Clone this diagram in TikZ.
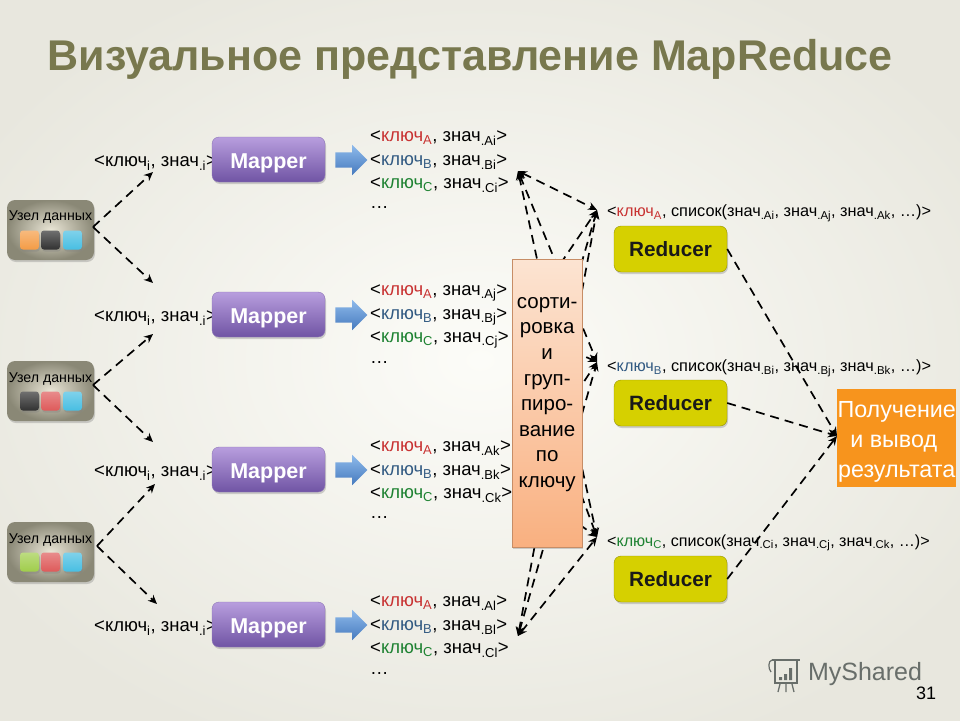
\documentclass[tikz,border=0pt]{standalone}
\usepackage{fontspec}
\setmainfont{Liberation Sans}
\usepackage{tikz}
\usetikzlibrary{arrows.meta,positioning,shapes.arrows,shadows,calc}
\usepackage{xcolor}
\definecolor{keyred}{RGB}{200,50,50}
\definecolor{keyblue}{RGB}{50,90,130}
\definecolor{keygreen}{RGB}{30,130,50}
\definecolor{titleolive}{RGB}{120,120,78}
\definecolor{mtop}{RGB}{184,158,222}
\definecolor{mbot}{RGB}{112,84,164}
\definecolor{rfill}{RGB}{214,208,0}
\definecolor{cellorange}{RGB}{244,156,70}
\definecolor{cellblack}{RGB}{50,50,50}
\definecolor{cellcyan}{RGB}{72,190,226}
\definecolor{cellred}{RGB}{222,90,90}
\definecolor{cellgreen}{RGB}{160,205,75}
\definecolor{bgin}{RGB}{252,252,248}
\definecolor{bgout}{RGB}{232,231,222}
\definecolor{datain}{RGB}{234,230,214}
\definecolor{dataout}{RGB}{138,136,118}
\definecolor{sorttop}{RGB}{252,228,210}
\definecolor{sortbot}{RGB}{249,176,128}
\definecolor{resultfill}{RGB}{247,148,29}
\definecolor{arrowtop}{RGB}{142,186,235}
\definecolor{arrowbot}{RGB}{70,122,190}
\definecolor{logogray}{RGB}{104,110,106}
\newcommand{\kvpair}[3]{<\textcolor{#1}{ключ\textsubscript{#2}}, знач\textsubscript{.#3}>}
\newcommand{\kvlist}[5]{<\textcolor{#1}{ключ\textsubscript{#2}}, список(знач\textsubscript{.#3}, знач\textsubscript{.#4}, знач\textsubscript{.#5}, \dots)>}
\tikzset{
  softshadow/.style={drop shadow={opacity=0.35,shadow xshift=1pt,shadow yshift=-2pt}},
  flow/.style={-{Stealth[length=9pt,width=8pt]},dash pattern=on 9pt off 6pt,line width=1.7pt,black},
  flowboth/.style={flow,{Stealth[length=9pt,width=8pt]}-{Stealth[length=9pt,width=8pt]}},
  datanode/.style={rounded corners=8pt,minimum width=87pt,minimum height=60pt,inner color=datain,outer color=dataout,softshadow},
  cell/.style={rounded corners=3pt,minimum size=19pt,inner sep=0pt,top color=#1!70!white,bottom color=#1,softshadow},
  mapperbox/.style={rounded corners=7pt,minimum width=113pt,minimum height=45pt,text height=17pt,text depth=0pt,top color=mtop,bottom color=mbot,draw=mbot!80,font=\fontsize{21.5}{24}\selectfont\bfseries,text=white,softshadow},
  reducerbox/.style={rounded corners=7pt,minimum width=113pt,minimum height=46pt,text height=15pt,text depth=0pt,fill=rfill,draw=rfill!70!black,font=\fontsize{20.7}{24}\selectfont\bfseries,text=black!90,softshadow},
  blockarrow/.style={single arrow,minimum height=32pt,inner xsep=0pt,inner ysep=7.5pt,single arrow head extend=7.5pt,single arrow tip angle=90,top color=arrowtop,bottom color=arrowbot},
  kvtext/.style={anchor=west,inner sep=0pt,font=\fontsize{18.5}{20}\selectfont},
  lsttext/.style={anchor=west,inner sep=0pt,font=\fontsize{16.3}{18}\selectfont},
  datalabel/.style={font=\fontsize{14.2}{16}\selectfont},
}
\begin{document}
\begin{tikzpicture}[x=1pt,y=-1pt]
    \useasboundingbox (0,0) rectangle (960,720);
    % Background
    \fill[inner color=bgin,outer color=bgout] (-100,-60) rectangle (1060,780);

    % Title
    \node[font=\fontsize{43}{46}\selectfont\bfseries,text=titleolive] (title) at (470,59) {Визуальное представление MapReduce};

    % Connectors, all under the sort box
    \coordinate (outa) at (518,171);
    \coordinate (outb) at (518,326);
    \coordinate (outc) at (518,481);
    \coordinate (outd) at (518,636);
    \coordinate (ina) at (597,210);
    \coordinate (inb) at (597,362);
    \coordinate (inc) at (597,537);
    \foreach \from/\kind in {outa/flowboth,outb/flow,outc/flow,outd/flowboth}
      \foreach \to in {ina,inb,inc}
        \draw[\kind] (\from) -- (\to);

    % Data nodes
    \node[datanode] (dataa) at (50.5,230) {};
    \node[datanode] (datab) at (50.5,391) {};
    \node[datanode] (datac) at (50.5,552) {};
    \node[datalabel] (labela) at (50.5,217) {Узел данных};
    \node[datalabel] (labelb) at (50.5,379) {Узел данных};
    \node[datalabel] (labelc) at (50.5,540) {Узел данных};
    \node[cell=cellorange] (a1) at (29.5,240) {};
    \node[cell=cellblack] (a2) at (50.5,240) {};
    \node[cell=cellcyan] (a3) at (72.5,240) {};
    \node[cell=cellblack] (b1) at (29.5,401) {};
    \node[cell=cellred] (b2) at (50.5,401) {};
    \node[cell=cellcyan] (b3) at (72.5,401) {};
    \node[cell=cellgreen] (c1) at (29.5,562) {};
    \node[cell=cellred] (c2) at (50.5,562) {};
    \node[cell=cellcyan] (c3) at (72.5,562) {};

    % Input ends
    \coordinate (ia) at (153,172);
    \coordinate (ib) at (153,283);
    \coordinate (ic) at (153,334);
    \coordinate (id) at (153,442);
    \coordinate (ie) at (155,484);
    \coordinate (if) at (157,604);
    \coordinate (da) at (93,227);
    \coordinate (db) at (93,385);
    \coordinate (dc) at (97,546);
    \draw[flow] (da) -- (ia);
    \draw[flow] (da) -- (ib);
    \draw[flow] (db) -- (ic);
    \draw[flow] (db) -- (id);
    \draw[flow] (dc) -- (ie);
    \draw[flow] (dc) -- (if);

    % Mappers
    \foreach \name/\y/\k in {a/0/i,b/155/j,c/310/k,d/465/l} {
      \node[kvtext] (in\name) at (94,163+\y) {\kvpair{black}{i}{i}};
      \node[mapperbox] (map\name) at (268.5,159.5+\y) {Mapper};
      \node[blockarrow] (arr\name) at (347.5,160+\y) {};
      \node[kvtext] (ka\name) at (370,138+\y) {\kvpair{keyred}{A}{A\k}};
      \node[kvtext] (kb\name) at (370,162+\y) {\kvpair{keyblue}{B}{B\k}};
      \node[kvtext] (kc\name) at (370,185+\y) {\kvpair{keygreen}{C}{C\k}};
      \node[kvtext] (dots\name) at (370,208+\y) {\dots};
    }

    % Sort box
    \node[anchor=north west,minimum width=70pt,minimum height=288pt,inner sep=0pt,top color=sorttop,bottom color=sortbot,draw=sortbot!80!black,softshadow] (sortbox) at (512,259) {};
    \node[font=\fontsize{20.5}{25.6}\selectfont,align=center,anchor=north,inner sep=0pt] (sorttext) at (sortbox.north |- 0,297) {сорти-\\ровка\\и\\груп-\\пиро-\\вание\\по\\ключу};

    % Reducers
    \node[lsttext] (lista) at (607,213) {\kvlist{keyred}{A}{Ai}{Aj}{Ak}};
    \node[lsttext] (listb) at (607,368) {\kvlist{keyblue}{B}{Bi}{Bj}{Bk}};
    \node[lsttext,font=\fontsize{16.1}{18}\selectfont] (listc) at (607,543) {\kvlist{keygreen}{C}{Ci}{Cj}{Ck}};
    \node[reducerbox] (reda) at (670.5,249) {Reducer};
    \node[reducerbox] (redb) at (670.5,403) {Reducer};
    \node[reducerbox] (redc) at (670.5,579) {Reducer};

    % Result
    \node[anchor=north west,minimum width=119pt,minimum height=98pt,inner sep=0pt,fill=resultfill] (result) at (837,389) {};
    \node[font=\fontsize{23.3}{30}\selectfont,align=center,text=white,inner sep=0pt] (resulttext) at ([yshift=-4pt]result.center) {Получение\\\mbox{и вывод\hspace{6pt}}\\результата};
    \coordinate (rin) at (837,436);
    \draw[flow] (reda.east) -- (rin);
    \draw[flow] (redb.east) -- (rin);
    \draw[flow] (redc.east) -- (rin);

    % Logo and page number
    \node[font=\fontsize{25}{27}\selectfont,text=logogray] (logo) at (865,674) {MyShared};
    \draw[logogray,line width=1.6pt] (772,660) -- (800,660) (775,660) -- (775,683) -- (797,683) -- (797,660);
    \draw[logogray,line width=1.2pt] (772,660) .. controls (768,661) and (768,668) .. (771,672);
    \fill[logogray] (779,677) rectangle (782,680) (784,674) rectangle (787,680) (789,668) rectangle (792,680);
    \draw[logogray,line width=1.3pt] (780,684) -- (778,692) (786,684) -- (786,692) (792,684) -- (794,692);
    \node[font=\fontsize{18}{20}\selectfont] (pagenum) at (926,693) {31};
\end{tikzpicture}
\end{document}
